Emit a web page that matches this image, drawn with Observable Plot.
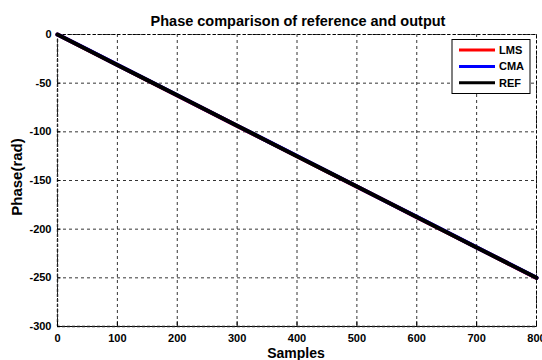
<!DOCTYPE html>
<html>
<head>
<meta charset="utf-8">
<script src="https://cdn.jsdelivr.net/npm/d3@7"></script>
<script src="https://cdn.jsdelivr.net/npm/@observablehq/plot@0.6"></script>
<style>
  html, body { margin: 0; padding: 0; background: white; }
</style>
</head>
<body>
<div id="chart"></div>
<script>
// Unwrapped phase (rad) of each signal, sampled every 50 samples
const samples = [0, 50, 100, 150, 200, 250, 300, 350, 400, 450, 500, 550, 600, 650, 700, 750, 800];
const lmsPhase = [0, -15.7, -31.3, -47.0, -62.6, -78.2, -93.9, -109.4, -125.1, -140.7, -156.3, -171.9, -187.6, -203.2, -218.8, -234.4, -250.1];
const cmaPhase = [0, -15.5, -31.2, -46.8, -62.4, -78.0, -93.7, -109.3, -124.9, -140.5, -156.2, -171.8, -187.4, -203.0, -218.7, -234.3, -249.9];
const refPhase = [0, -15.6, -31.25, -46.9, -62.5, -78.1, -93.75, -109.4, -125.0, -140.6, -156.25, -171.9, -187.5, -203.1, -218.75, -234.4, -250.0];

const xTicks = [0, 100, 200, 300, 400, 500, 600, 700, 800];
const yTicks = [0, -50, -100, -150, -200, -250, -300];

const seriesNames = ["LMS", "CMA", "REF"];
const seriesColors = ["#ff0000", "#0000ff", "#000000"];
const seriesValues = [lmsPhase, cmaPhase, refPhase];

const rows = seriesNames.flatMap((name, i) =>
  samples.map((s, j) => ({series: name, sample: s, phase: seriesValues[i][j]}))
);

const font = "Liberation Sans, Arial, Helvetica, sans-serif";
const gridStyle = {stroke: "#000", strokeWidth: 0.8, strokeDasharray: "3,3"};
const plainNumber = d => String(d);

const plot = Plot.plot({
  width: 542,
  height: 360,
  marginLeft: 57,
  marginRight: 6,
  marginTop: 34,
  marginBottom: 34,
  style: {fontFamily: font, background: "white"},
  x: {domain: [0, 800]},
  y: {domain: [-300, 0]},
  marks: [
    // dashed grid, drawn from the tick values
    Plot.ruleX(xTicks, gridStyle),
    Plot.ruleY(yTicks, gridStyle),
    // box around the axes
    Plot.frame({stroke: "#000", strokeWidth: 1, strokeDasharray: "3,2"}),
    Plot.ruleX([0], {stroke: "#222", strokeWidth: 1.4, strokeDasharray: "3,2"}),
    Plot.ruleY([-300], {stroke: "#222", strokeWidth: 1.4, strokeDasharray: "3,2"}),
    // phase curves
    Plot.line(rows.filter(d => d.series === "LMS"), {x: "sample", y: "phase", stroke: seriesColors[0], strokeWidth: 4}),
    Plot.line(rows.filter(d => d.series === "CMA"), {x: "sample", y: "phase", stroke: seriesColors[1], strokeWidth: 4}),
    Plot.line(rows.filter(d => d.series === "REF"), {x: "sample", y: "phase", stroke: seriesColors[2], strokeWidth: 4}),
    Plot.axisX(xTicks, {tickSize: 0, tickPadding: 8, fontSize: 11, fontWeight: "bold", fill: "#000", label: null, tickFormat: plainNumber}),
    Plot.axisY(yTicks, {tickSize: 0, tickPadding: 6, fontSize: 11, fontWeight: "bold", fill: "#000", label: null, tickFormat: plainNumber}),
    // short inward tick marks
    Plot.ruleX(xTicks, {y1: -300, y2: -295, stroke: "#000"}),
    Plot.ruleY(yTicks, {x1: 0, x2: 6, stroke: "#000"})
  ]
});

// title, axis labels and legend, placed in pixel space
const svg = d3.select(plot);
svg.append("text")
  .attr("x", 298).attr("y", 25.5)
  .attr("text-anchor", "middle")
  .attr("font-size", 14.5).attr("font-weight", "bold").attr("fill", "#000")
  .text("Phase comparison of reference and output");
svg.append("text")
  .attr("x", 296).attr("y", 358)
  .attr("text-anchor", "middle")
  .attr("font-size", 14).attr("font-weight", "bold").attr("fill", "#000")
  .text("Samples");
svg.append("text")
  .attr("transform", "translate(22,177) rotate(-90)")
  .attr("text-anchor", "middle")
  .attr("font-size", 15).attr("font-weight", "bold").attr("fill", "#000")
  .text("Phase(rad)");

const legend = svg.append("g");
legend.append("rect")
  .attr("x", 452).attr("y", 39.5).attr("width", 78).attr("height", 54)
  .attr("fill", "white").attr("stroke", "#000").attr("stroke-width", 1);
seriesNames.forEach((name, i) => {
  const y = 50 + i * 16.4;
  legend.append("line")
    .attr("x1", 459).attr("x2", 495).attr("y1", y).attr("y2", y)
    .attr("stroke", seriesColors[i]).attr("stroke-width", 3);
  legend.append("text")
    .attr("x", 499).attr("y", y).attr("dy", "0.36em")
    .attr("text-anchor", "start")
    .attr("font-size", 11).attr("font-weight", "bold").attr("fill", "#000")
    .text(name);
});

document.getElementById("chart").appendChild(plot);
</script>
</body>
</html>
